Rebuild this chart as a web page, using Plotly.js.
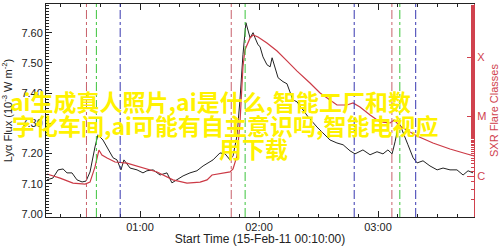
<!DOCTYPE html>
<html>
<head>
<meta charset="utf-8">
<script src="https://cdn.plot.ly/plotly-3.0.1.min.js"></script>
<style>html,body{margin:0;padding:0;background:#fff;}#chart{width:500px;height:246px;}</style>
</head>
<body>
<div id="chart"></div>
<script>
// Lyman-alpha flux (minutes after 00:00 UT, 10^-3 W m^-2)
const lyaMin = [13.1,16.1,18.7,21.2,23.2,25.7,28.2,30.8,32.8,34.8,
  37.3,38.8,41.3,43.4,46.4,48.4,50.4,51.9,55.0,58.5,
  61.5,63.5,66.6,70.1,73.6,76.1,78.7,81.7,85.2,88.7,
  91.8,94.3,96.8,100.3,102.9,105.4,106.9,108.9,110.4,111.9,
  113.4,115.5,117.0,118.0,119.5,120.5,122.0,124.0,125.6,126.6,
  127.6,129.6,132.1,134.1,135.6,137.1,139.2,142.2,144.7,149.2,
  152.3,155.8,159.3,162.4,165.9,168.4,172.4,176.0,179.5,182.5,
  185.0,187.1,188.6,190.1,191.1,192.6,195.1,197.7,199.7,202.7,
  206.2,209.8,212.8,216.3,219.8,222.9,225.4,227.9];
const lyaFlux = [7.113,7.119,7.146,7.149,7.136,7.136,7.113,7.106,7.109,7.139,
  7.222,7.262,7.245,7.219,7.186,7.179,7.146,7.179,7.152,7.146,
  7.136,7.143,7.146,7.129,7.136,7.103,7.113,7.126,7.136,7.143,
  7.159,7.169,7.179,7.202,7.199,7.179,7.192,7.259,7.378,7.527,
  7.633,7.583,7.600,7.583,7.560,7.554,7.520,7.494,7.487,7.517,
  7.494,7.451,7.438,7.431,7.404,7.378,7.371,7.345,7.322,7.288,
  7.269,7.245,7.235,7.229,7.209,7.199,7.212,7.196,7.206,7.199,
  7.212,7.199,7.239,7.285,7.295,7.272,7.229,7.186,7.169,7.176,
  7.159,7.146,7.152,7.146,7.146,7.129,7.143,7.136];

// GOES SXR flux (W m^-2)
const sxrMin = [13.1,19.7,26.2,32.3,34.8,37.3,39.3,40.8,43.4,47.4,
  53.4,60.0,68.6,76.6,83.7,90.3,93.8,96.3,101.3,105.4,
  106.9,108.9,110.4,110.9,111.9,112.9,115.5,117.0,119.5,124.0,
  129.1,134.1,139.2,145.7,150.8,155.8,159.3,164.4,167.4,170.9,
  176.0,181.0,186.1,188.1,191.1,196.1,199.7,207.7,216.3,224.9,228.4];
const sxrFlux = [1.08e-6,9.2e-7,7.6e-7,7.3e-7,7.9e-7,1.42e-6,2.73e-6,2.25e-6,2.01e-6,1.72e-6,
  1.65e-6,1.42e-6,1.17e-6,8.6e-7,7.6e-7,7.9e-7,8.6e-7,1.04e-6,1.12e-6,1.17e-6,
  1.31e-6,2.17e-6,7.8e-6,1.89e-5,6.8e-5,1.31e-4,2.09e-4,2.34e-4,2.17e-4,1.72e-4,
  1.26e-4,8.6e-5,5.8e-5,3.66e-5,2.48e-5,1.89e-5,1.56e-5,1.56e-5,1.69e-5,1.45e-5,
  1.06e-5,8.1e-6,7.8e-6,8.7e-6,6.9e-6,5.5e-6,4.7e-6,3.59e-6,2.84e-6,2.34e-6,2.17e-6];

// event markers (minutes)
const eventRed = [33, 106, 187];
const eventGreen = [38, 113, 191];
const eventBlue = [50, 168, 199];

const classVals = [1e-6, 1e-5, 1e-4];
const classText = ['C', 'M', 'X'];
const lyaTicks = [7.00, 7.10, 7.20, 7.30, 7.40, 7.50, 7.60];

const watermark = ['ai生成真人照片,ai是什么,智能工厂和数', '字化车间,ai可能有自主意识吗,智能电视应', '用下载'];

function toTime(m) {
  const s = Math.round(m * 60);
  const h = Math.floor(s / 3600), mi = Math.floor((s % 3600) / 60), se = s % 60;
  const p = v => String(v).padStart(2, '0');
  return '2015-02-11 ' + p(h) + ':' + p(mi) + ':' + p(se);
}

const RED = '#d0424e';
const traces = [
  {x: sxrMin.map(toTime), y: sxrFlux, yaxis: 'y2', mode: 'lines', line: {color: '#cc3a46', width: 1.2}, hoverinfo: 'skip'},
  {x: lyaMin.map(toTime), y: lyaFlux, mode: 'lines', line: {color: '#222', width: 1}, hoverinfo: 'skip'}
];

const shapes = [];
function vlines(arr, color) {
  arr.forEach(m => shapes.push({type: 'line', xref: 'x', yref: 'paper', x0: toTime(m), x1: toTime(m), y0: 0, y1: 1,
    line: {color: color, width: 1, dash: 'dashdot'}, layer: 'above'}));
}
vlines(eventRed, '#c8606a');
vlines(eventGreen, '#3cc43c');
vlines(eventBlue, '#3838b0');

const wmPos = [[-0.089, 0.545], [-0.084, 0.432], [0.3995, 0.324]];
const annotations = watermark.map((t, i) => ({
  text: '<b>' + t + '</b>', xref: 'paper', yref: 'paper', x: wmPos[i][0], y: wmPos[i][1],
  xanchor: 'left', yanchor: 'middle', showarrow: false,
  font: {family: 'Noto Sans CJK SC', size: 23, color: '#fff200'}
}));

const layout = {
  width: 500, height: 246,
  margin: {l: 46, r: 26, t: 4, b: 29},
  paper_bgcolor: '#fff', plot_bgcolor: '#fff',
  showlegend: false,
  font: {family: 'Liberation Sans, Arial, sans-serif', size: 11, color: '#222'},
  xaxis: {
    type: 'date', range: [toTime(12.6), toTime(228.4)],
    tick0: '2015-02-11 00:00:00', dtick: 3600000, tickformat: '%H:%M',
    ticks: 'inside', ticklen: 6, tickcolor: '#222',
    minor: {dtick: 600000, ticks: 'inside', ticklen: 3, tickcolor: '#222'},
    showline: true, linecolor: '#222', linewidth: 1, mirror: 'ticks',
    showgrid: false, zeroline: false,
    tickfont: {size: 11, color: '#222'},
    title: {text: 'Start Time (15-Feb-11 00:10:00)', font: {size: 12, color: '#222'}, standoff: 4},
    automargin: false
  },
  yaxis: {
    range: [6.99, 7.695], tickvals: lyaTicks, tickformat: '.2f',
    ticks: 'inside', ticklen: 6, tickcolor: '#222',
    minor: {dtick: 0.01, ticks: 'inside', ticklen: 3, tickcolor: '#222'},
    showline: true, linecolor: '#222', linewidth: 1, mirror: false,
    showgrid: false, zeroline: false,
    tickfont: {size: 11, color: '#222'},
    title: {text: 'Lyα Flux (10<sup>-3</sup> W m<sup>-2</sup>)', font: {size: 11, color: '#222'}, standoff: 6},
    automargin: false
  },
  yaxis2: {
    type: 'log', range: [-6.689, -3.109], overlaying: 'y', side: 'right',
    tickvals: classVals, ticktext: classText,
    ticks: 'inside', ticklen: 7, tickcolor: RED,
    minor: {ticks: 'inside', ticklen: 3, tickcolor: RED},
    showline: true, linecolor: RED, linewidth: 1,
    showgrid: false, zeroline: false,
    tickfont: {size: 11, color: RED},
    title: {text: 'SXR Flare Classes', font: {size: 11, color: RED}, standoff: 4},
    automargin: false
  },
  shapes: shapes,
  annotations: annotations
};

Plotly.newPlot('chart', traces, layout, {staticPlot: true, displayModeBar: false});
</script>
</body>
</html>
